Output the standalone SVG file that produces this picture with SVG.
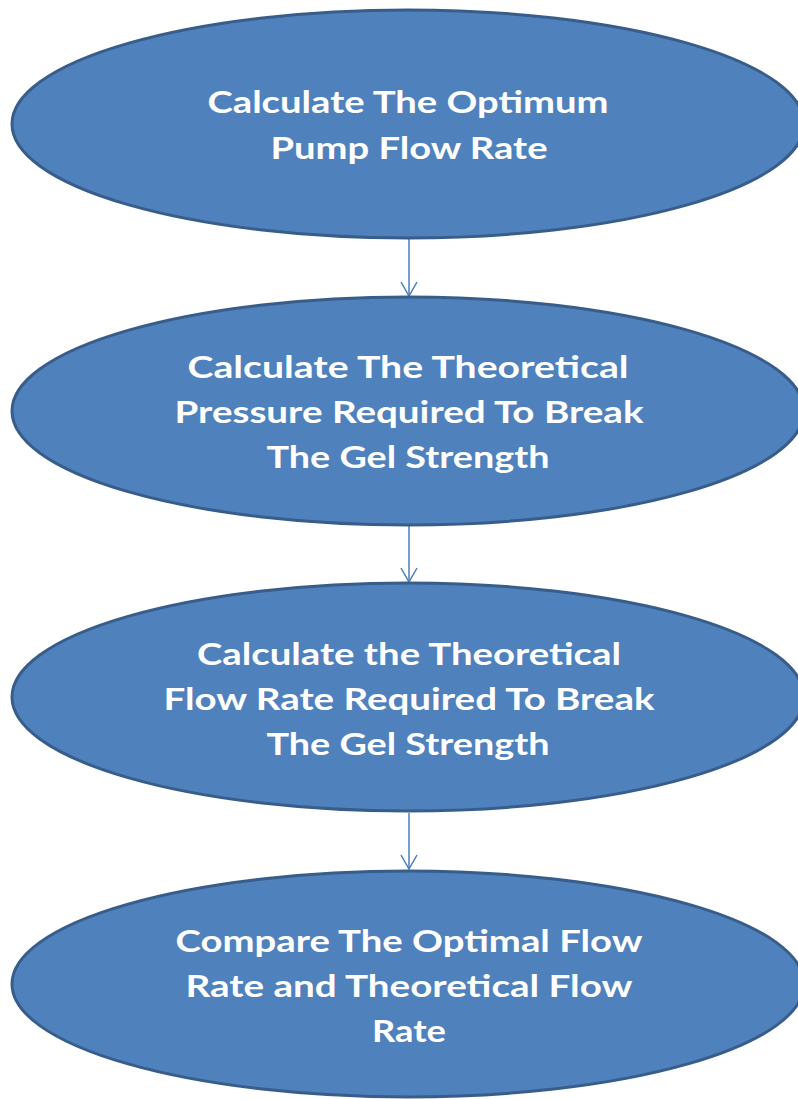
<svg xmlns="http://www.w3.org/2000/svg" width="798" height="1099" viewBox="0 0 798 1099">
<defs>
<style>
.node ellipse{fill:#4F81BD;stroke:#385D8A;stroke-width:3}
.node text{font-family:Lato,"Liberation Sans",sans-serif;font-weight:bold;font-size:31px;fill:#FFFFFF;text-anchor:middle}
.conn line{stroke:#4A7EBB;stroke-width:1.5}
.conn path{fill:none;stroke:#4A7EBB;stroke-width:1.5}
</style>
</defs>
<rect width="798" height="1099" fill="#FFFFFF"/>
<g id="connectors" class="conn">
<line x1="409" y1="239" x2="409" y2="296"/>
<path d="M401,282 L409,296 L417,282"/>
<line x1="409" y1="526" x2="409" y2="582"/>
<path d="M401,568 L409,582 L417,568"/>
<line x1="409" y1="813" x2="409" y2="869"/>
<path d="M401,855 L409,869 L417,855"/>
</g>
<g id="node1" class="node">
<ellipse cx="408" cy="124" rx="396" ry="114"/>
<text x="408" y="113" textLength="401" lengthAdjust="spacingAndGlyphs">Calculate The Optimum</text>
<text x="409" y="159" textLength="277" lengthAdjust="spacingAndGlyphs">Pump Flow Rate</text>
</g>
<g id="node2" class="node">
<ellipse cx="408" cy="411" rx="396" ry="114"/>
<text x="408" y="378" textLength="441" lengthAdjust="spacingAndGlyphs">Calculate  The Theoretical</text>
<text x="409" y="423" textLength="469" lengthAdjust="spacingAndGlyphs">Pressure Required To Break</text>
<text x="408" y="468" textLength="283" lengthAdjust="spacingAndGlyphs">The Gel Strength</text>
</g>
<g id="node3" class="node">
<ellipse cx="408" cy="697" rx="396" ry="114"/>
<text x="409" y="665" textLength="424" lengthAdjust="spacingAndGlyphs">Calculate the Theoretical</text>
<text x="409" y="710" textLength="491" lengthAdjust="spacingAndGlyphs">Flow Rate Required To Break</text>
<text x="408" y="755" textLength="283" lengthAdjust="spacingAndGlyphs">The Gel Strength</text>
</g>
<g id="node4" class="node">
<ellipse cx="408" cy="984" rx="396" ry="113"/>
<text x="409" y="952" textLength="467" lengthAdjust="spacingAndGlyphs">Compare The Optimal Flow</text>
<text x="409" y="997" textLength="447" lengthAdjust="spacingAndGlyphs">Rate and Theoretical Flow</text>
<text x="409" y="1042" textLength="74" lengthAdjust="spacingAndGlyphs">Rate</text>
</g>
</svg>
